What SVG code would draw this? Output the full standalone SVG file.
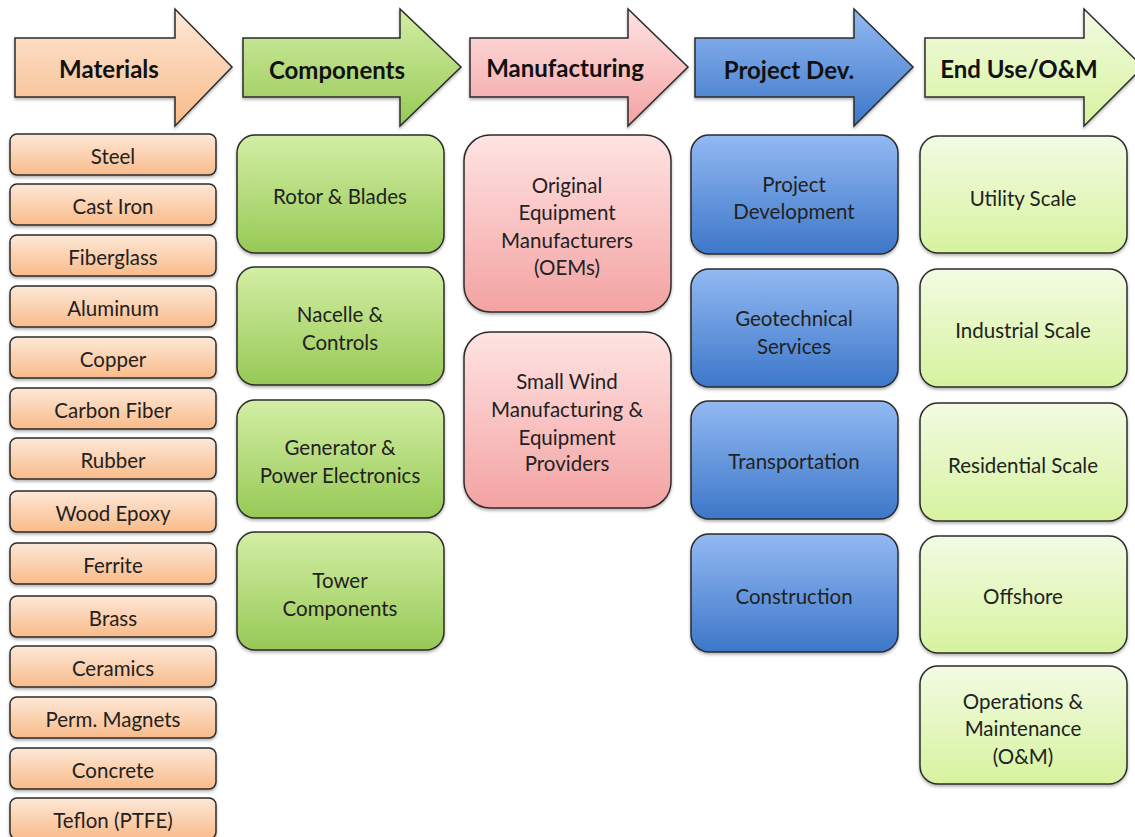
<svg xmlns="http://www.w3.org/2000/svg" width="1135" height="837" viewBox="0 0 1135 837">
<defs>
<linearGradient id="gO" x1="0" y1="0" x2="0" y2="1"><stop offset="0" stop-color="#FDE8D7"/><stop offset="1" stop-color="#F9BB8A"/></linearGradient>
<linearGradient id="gG" x1="0" y1="0" x2="0" y2="1"><stop offset="0" stop-color="#D3EEA4"/><stop offset="1" stop-color="#97C956"/></linearGradient>
<linearGradient id="gP" x1="0" y1="0" x2="0" y2="1"><stop offset="0" stop-color="#FFE3E3"/><stop offset="1" stop-color="#F4A2A2"/></linearGradient>
<linearGradient id="gB" x1="0" y1="0" x2="0" y2="1"><stop offset="0" stop-color="#92B9F2"/><stop offset="1" stop-color="#3D77C9"/></linearGradient>
<linearGradient id="gL" x1="0" y1="0" x2="0" y2="1"><stop offset="0" stop-color="#F3FBE3"/><stop offset="1" stop-color="#D6F39E"/></linearGradient>
<filter id="sh" x="-5%" y="-5%" width="110%" height="120%"><feDropShadow dx="0" dy="2" stdDeviation="1.5" flood-color="#000" flood-opacity="0.3"/></filter>
</defs>
<style>
.a{stroke:#2b2b2b;stroke-width:1.5;filter:url(#sh)}
.b{stroke:#2b2b2b;stroke-width:1.5;filter:url(#sh)}
.h{font-family:Lato,"Liberation Sans",sans-serif;font-weight:bold;font-size:24px;fill:#111;text-anchor:middle}
.t{font-family:Lato,"Liberation Sans",sans-serif;font-size:20.5px;fill:#222;text-anchor:middle}
.m{font-family:Lato,"Liberation Sans",sans-serif;font-size:20.5px;fill:#222;text-anchor:middle}
</style>
<rect width="1135" height="837" fill="#fff"/>
<g id="headers">
<g id="h-materials"><path class="a" fill="url(#gO)" d="M15,38H175V9L232,67L175,126V97H15Z"/><text class="h" x="109" y="78">Materials</text></g>
<g id="h-components"><path class="a" fill="url(#gG)" d="M243,38H400V9L461,67L400,126V97H243Z"/><text class="h" x="337" y="79">Components</text></g>
<g id="h-manufacturing"><path class="a" fill="url(#gP)" d="M470,38H628V9L688,67L628,126V97H470Z"/><text class="h" x="565" y="77">Manufacturing</text></g>
<g id="h-projectdev"><path class="a" fill="url(#gB)" d="M695,38H854V9L913,67L854,126V97H695Z"/><text class="h" x="789" y="79">Project Dev.</text></g>
<g id="h-enduse"><path class="a" fill="url(#gL)" d="M925,38H1084V9L1143,67L1084,126V97H925Z"/><text class="h" x="1019" y="78">End Use/O&amp;M</text></g>
</g>
<g id="connectors"></g>
<g id="materials">
<g id="m1"><rect class="b" fill="url(#gO)" x="10" y="134" width="206" height="41" rx="7"/><text class="m" x="113" y="164">Steel</text></g>
<g id="m2"><rect class="b" fill="url(#gO)" x="10" y="184" width="206" height="41" rx="7"/><text class="m" x="113" y="214">Cast Iron</text></g>
<g id="m3"><rect class="b" fill="url(#gO)" x="10" y="235" width="206" height="41" rx="7"/><text class="m" x="113" y="265">Fiberglass</text></g>
<g id="m4"><rect class="b" fill="url(#gO)" x="10" y="286" width="206" height="41" rx="7"/><text class="m" x="113" y="316">Aluminum</text></g>
<g id="m5"><rect class="b" fill="url(#gO)" x="10" y="337" width="206" height="41" rx="7"/><text class="m" x="113" y="367">Copper</text></g>
<g id="m6"><rect class="b" fill="url(#gO)" x="10" y="388" width="206" height="41" rx="7"/><text class="m" x="113" y="418">Carbon Fiber</text></g>
<g id="m7"><rect class="b" fill="url(#gO)" x="10" y="438" width="206" height="41" rx="7"/><text class="m" x="113" y="468">Rubber</text></g>
<g id="m8"><rect class="b" fill="url(#gO)" x="10" y="491" width="206" height="41" rx="7"/><text class="m" x="113" y="521">Wood Epoxy</text></g>
<g id="m9"><rect class="b" fill="url(#gO)" x="10" y="543" width="206" height="41" rx="7"/><text class="m" x="113" y="573">Ferrite</text></g>
<g id="m10"><rect class="b" fill="url(#gO)" x="10" y="596" width="206" height="41" rx="7"/><text class="m" x="113" y="626">Brass</text></g>
<g id="m11"><rect class="b" fill="url(#gO)" x="10" y="646" width="206" height="41" rx="7"/><text class="m" x="113" y="676">Ceramics</text></g>
<g id="m12"><rect class="b" fill="url(#gO)" x="10" y="697" width="206" height="41" rx="7"/><text class="m" x="113" y="727">Perm. Magnets</text></g>
<g id="m13"><rect class="b" fill="url(#gO)" x="10" y="748" width="206" height="41" rx="7"/><text class="m" x="113" y="778">Concrete</text></g>
<g id="m14"><rect class="b" fill="url(#gO)" x="10" y="798" width="206" height="41" rx="7"/><text class="m" x="113" y="828">Teflon (PTFE)</text></g>
</g>
<g id="components">
<g id="c1"><rect class="b" fill="url(#gG)" x="237" y="135" width="207" height="118" rx="18"/><text class="t" x="340" y="204">Rotor &amp; Blades</text></g>
<g id="c2"><rect class="b" fill="url(#gG)" x="237" y="267" width="207" height="118" rx="18"/><text class="t" x="340" y="322">Nacelle &amp;</text><text class="t" x="340" y="350">Controls</text></g>
<g id="c3"><rect class="b" fill="url(#gG)" x="237" y="400" width="207" height="118" rx="18"/><text class="t" x="340" y="455">Generator &amp;</text><text class="t" x="340" y="483">Power Electronics</text></g>
<g id="c4"><rect class="b" fill="url(#gG)" x="237" y="532" width="207" height="118" rx="18"/><text class="t" x="340" y="588">Tower</text><text class="t" x="340" y="616">Components</text></g>
</g>
<g id="manufacturing">
<g id="f1"><rect class="b" fill="url(#gP)" x="464" y="135" width="207" height="177" rx="26"/><text class="t" x="567" y="193">Original</text><text class="t" x="567" y="220">Equipment</text><text class="t" x="567" y="248">Manufacturers</text><text class="t" x="567" y="275">(OEMs)</text></g>
<g id="f2"><rect class="b" fill="url(#gP)" x="464" y="332" width="207" height="176" rx="26"/><text class="t" x="567" y="389">Small Wind</text><text class="t" x="567" y="417">Manufacturing &amp;</text><text class="t" x="567" y="445">Equipment</text><text class="t" x="567" y="471">Providers</text></g>
</g>
<g id="projectdev">
<g id="p1"><rect class="b" fill="url(#gB)" x="691" y="135" width="207" height="119" rx="18"/><text class="t" x="794" y="192">Project</text><text class="t" x="794" y="219">Development</text></g>
<g id="p2"><rect class="b" fill="url(#gB)" x="691" y="269" width="207" height="118" rx="18"/><text class="t" x="794" y="326">Geotechnical</text><text class="t" x="794" y="354">Services</text></g>
<g id="p3"><rect class="b" fill="url(#gB)" x="691" y="401" width="207" height="118" rx="18"/><text class="t" x="794" y="469">Transportation</text></g>
<g id="p4"><rect class="b" fill="url(#gB)" x="691" y="534" width="207" height="118" rx="18"/><text class="t" x="794" y="604">Construction</text></g>
</g>
<g id="enduse">
<g id="e1"><rect class="b" fill="url(#gL)" x="920" y="136" width="207" height="117" rx="18"/><text class="t" x="1023" y="206">Utility Scale</text></g>
<g id="e2"><rect class="b" fill="url(#gL)" x="920" y="269" width="207" height="118" rx="18"/><text class="t" x="1023" y="338">Industrial Scale</text></g>
<g id="e3"><rect class="b" fill="url(#gL)" x="920" y="403" width="207" height="118" rx="18"/><text class="t" x="1023" y="473">Residential Scale</text></g>
<g id="e4"><rect class="b" fill="url(#gL)" x="920" y="536" width="207" height="117" rx="18"/><text class="t" x="1023" y="604">Offshore</text></g>
<g id="e5"><rect class="b" fill="url(#gL)" x="920" y="666" width="207" height="118" rx="18"/><text class="t" x="1023" y="709">Operations &amp;</text><text class="t" x="1023" y="736">Maintenance</text><text class="t" x="1023" y="764">(O&amp;M)</text></g>
</g>
</svg>
